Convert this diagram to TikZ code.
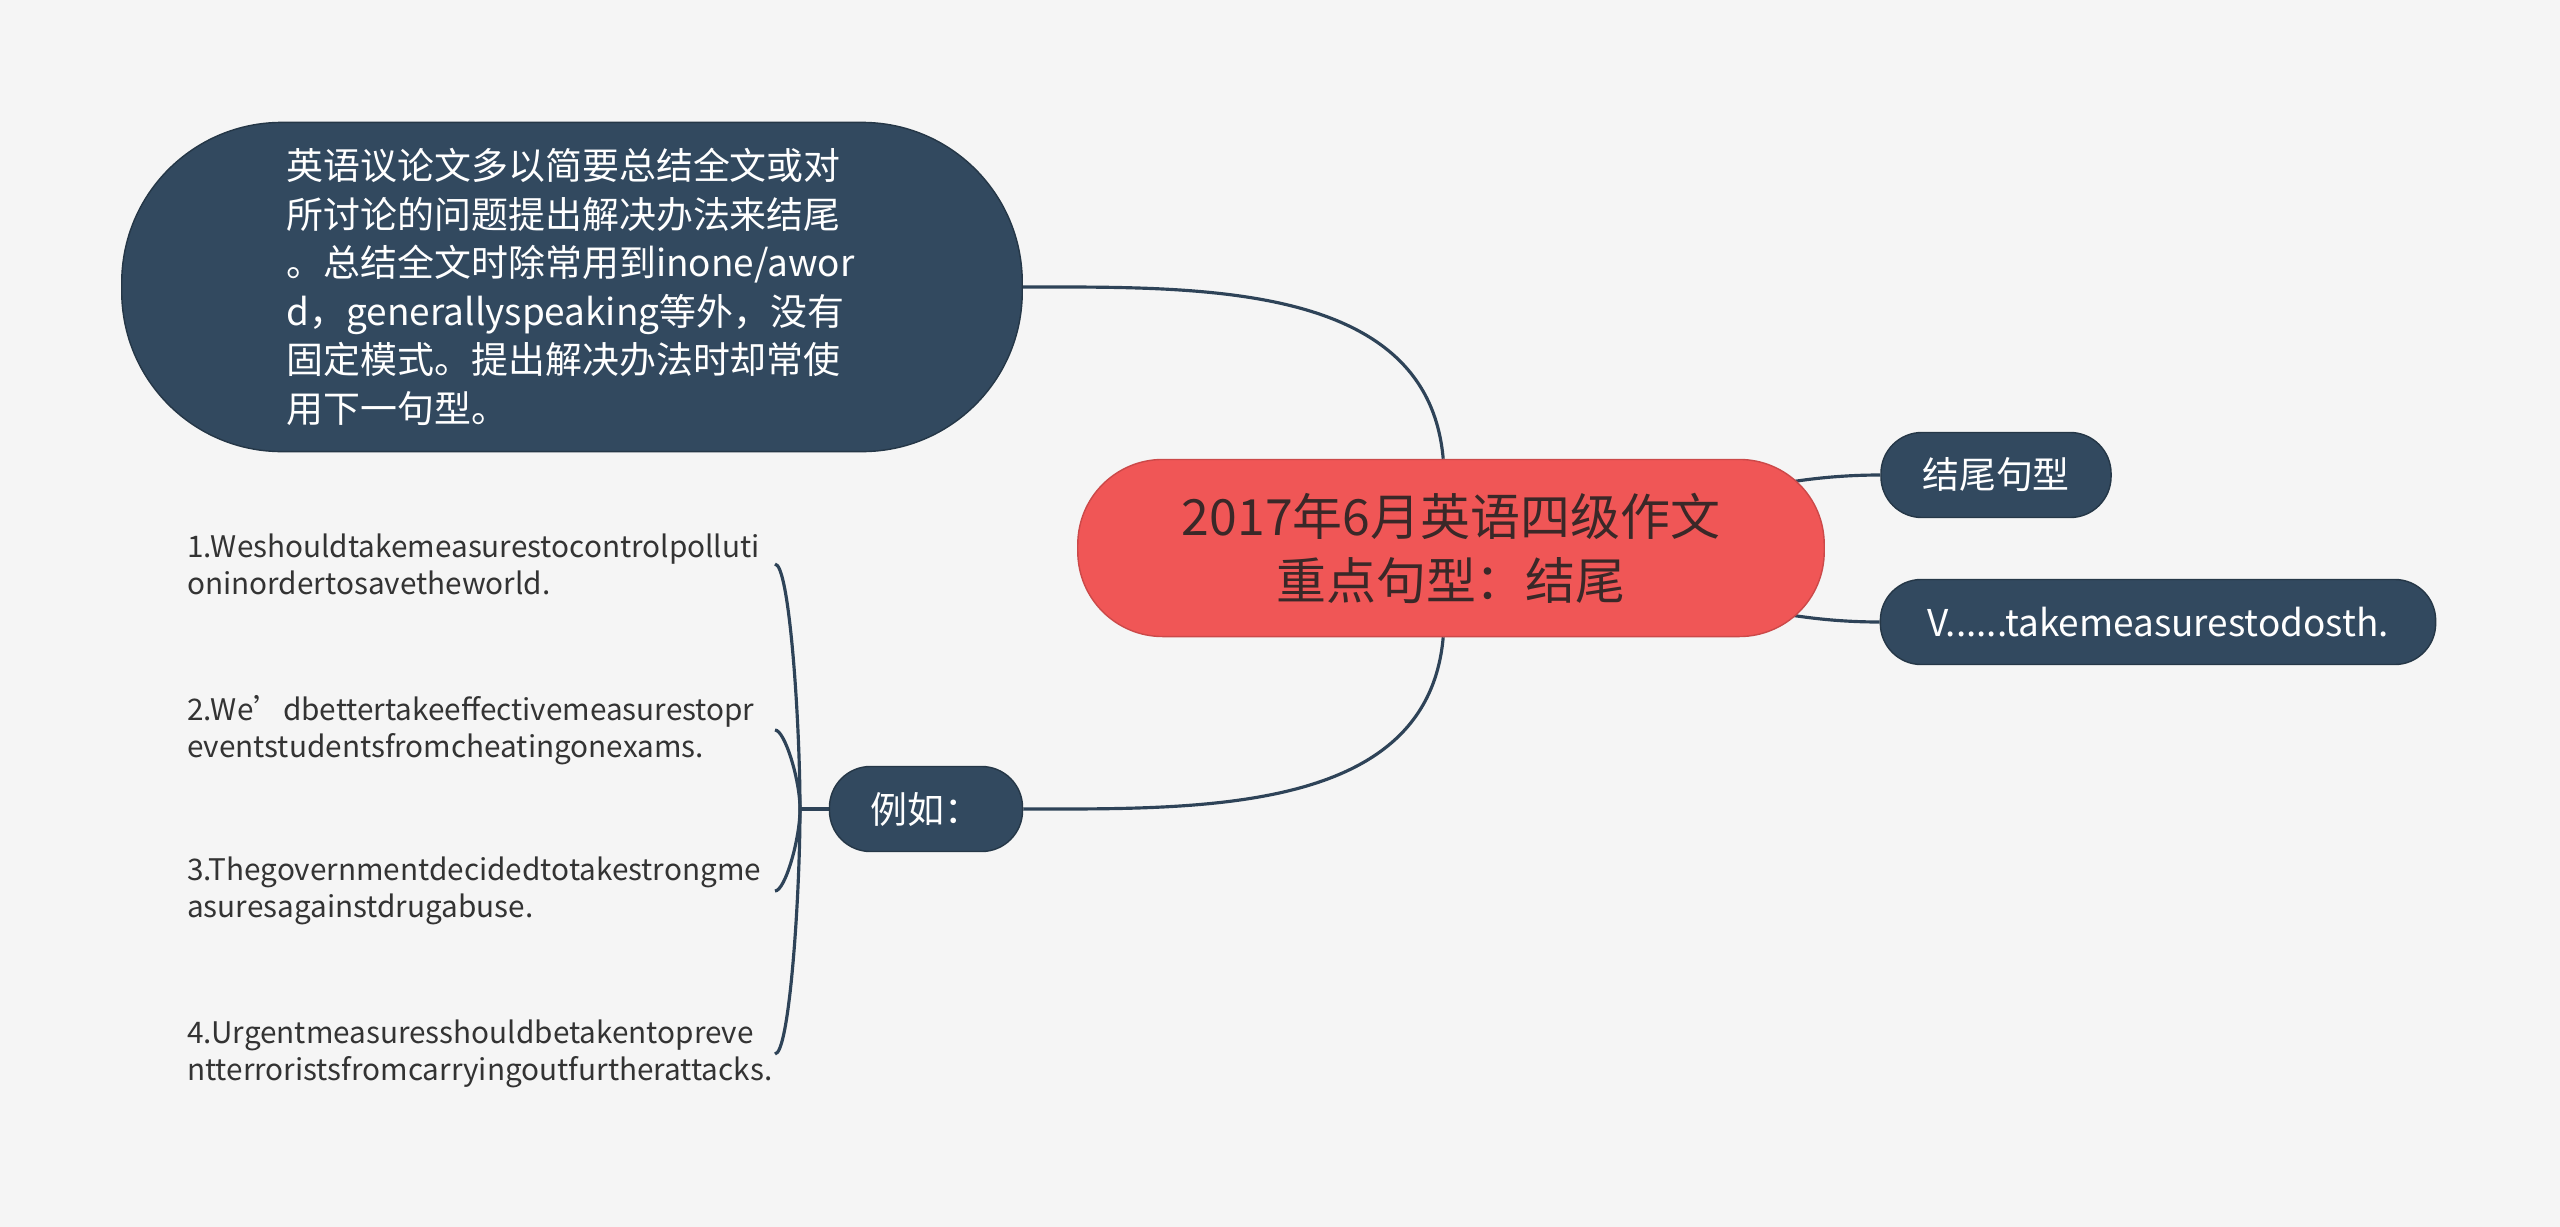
\documentclass[tikz,border=0pt]{standalone}
\usepackage{fontspec}
\setmainfont{Noto Sans CJK SC}
\usetikzlibrary{backgrounds}
\definecolor{bg}{HTML}{F5F5F5}
\definecolor{slate}{HTML}{32495F}
\definecolor{coral}{HTML}{F05656}
\definecolor{ink}{HTML}{3A2828}
\definecolor{wire}{HTML}{2E4358}

\begin{document}
\begin{tikzpicture}[x=0.01cm,y=-0.01cm,thick,
  root node/.style={rectangle,rounded corners=0.85cm,fill=coral,draw=coral!85!black,line width=0.4pt,
    text=ink,minimum width=7.46cm,minimum height=1.77cm,align=center,font=\fontsize{14.2}{18.2}\selectfont},
  topic node/.style={rectangle,rounded corners=0.41cm,fill=slate,draw=slate!75!black,line width=0.4pt,
    text=white,minimum height=0.85cm,font=\fontsize{10.5}{13.8}\selectfont},
  leaf node/.style={inner sep=0pt,text width=5.86cm,align=left,anchor=east,text=black!80,
    font=\fontsize{8.45}{10.5}\selectfont},
  link/.style={draw=wire,line width=0.9pt}]

  \useasboundingbox (0,0) rectangle (2560,1227);

  \node[root node] (0) at (1451,548) {2017年6月英语四级作文\\重点句型：结尾};
  \node[topic node,rounded corners=1.6cm,minimum width=9cm,minimum height=3.29cm,
    text width=5.7cm,align=left] (1) at (572,287)
    {英语议论文多以简要总结全文或对\\所讨论的问题提出解决办法来结尾\\。总结全文时除常用到inone/awor\\d，generallyspeaking等外，没有\\固定模式。提出解决办法时却常使\\用下一句型。};
  \node[topic node,minimum width=2.3cm] (2) at (1996,475) {结尾句型};
  \node[topic node,minimum width=5.55cm] (3) at (2158,622) {V......takemeasurestodosth.};
  \node[topic node,minimum width=1.93cm] (4) at (926,809) {例如：};

  \node[leaf node] (5) at (775,564) {1.Weshouldtakemeasurestocontrolpolluti\\oninordertosavetheworld.};
  \node[leaf node] (6) at (775,730) {2.We’dbettertakeeffectivemeasurestopr\\eventstudentsfromcheatingonexams.};
  \node[leaf node] (7) at (775,891) {3.Thegovernmentdecidedtotakestrongme\\asuresagainstdrugabuse.};
  \node[leaf node] (8) at (775,1054) {4.Urgentmeasuresshouldbetakentopreve\\ntterroristsfromcarryingoutfurtherattacks.};

  \coordinate (j) at (800,809);

  \begin{pgfonlayer}{background}
  \fill[bg] (0,0) rectangle (2560,1227);
  \path[link]
    (0) edge [out=95,in=0] (1)
        edge [out=265,in=0] (4)
    (0.center) edge [out=0,in=180] (2)
        edge [out=0,in=180] (3)
    (4) edge (j)
    (j) edge [out=90,in=0,out looseness=0.9,in looseness=0.15] (5)
        edge [out=90,in=0,out looseness=0.9,in looseness=0.3] (6)
        edge [out=270,in=0,out looseness=0.9,in looseness=0.3] (7)
        edge [out=270,in=0,out looseness=0.9,in looseness=0.15] (8);
  \end{pgfonlayer}
\end{tikzpicture}
\end{document}
